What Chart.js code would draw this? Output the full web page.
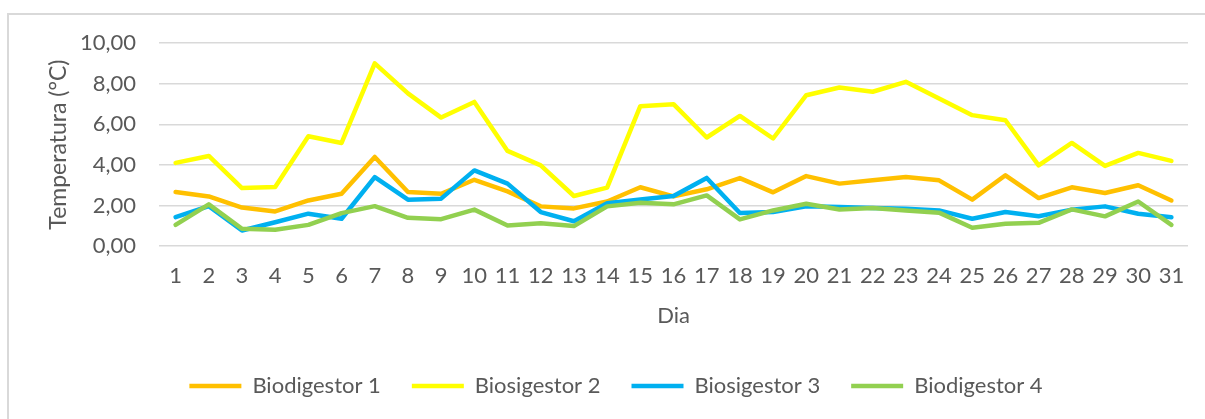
<!DOCTYPE html>
<html>
<head>
<meta charset="utf-8">
<script src="https://cdn.jsdelivr.net/npm/chart.js@4/dist/chart.umd.min.js"></script>
<style>
  html, body { margin: 0; padding: 0; background: #fff; overflow: hidden; }
  #wrap { position: relative; width: 1205px; height: 419px; }
  #frame { position: absolute; left: 7px; top: 13px; width: 1400px; height: 600px;
           border: 2px solid #d9d9d9; box-sizing: border-box; pointer-events: none; }
</style>
</head>
<body>
<div id="wrap">
  <canvas id="chart" width="1205" height="419"></canvas>
  <div id="frame"></div>
</div>
<script>
const days = Array.from({ length: 31 }, (_, i) => String(i + 1));

const biodigestor1 = [2.67, 2.45, 1.90, 1.71, 2.25, 2.58, 4.39, 2.67, 2.58, 3.27, 2.70, 1.96, 1.86, 2.20, 2.90, 2.45,
  2.80, 3.35, 2.65, 3.45, 3.08, 3.24, 3.40, 3.24, 2.29, 3.49, 2.37, 2.90, 2.62, 3.00, 2.25];
const biosigestor2 = [4.10, 4.44, 2.86, 2.91, 5.41, 5.08, 9.00, 7.52, 6.33, 7.10, 4.69, 3.98, 2.47, 2.88, 6.89, 6.99,
  5.35, 6.41, 5.30, 7.43, 7.81, 7.60, 8.09, 7.27, 6.45, 6.20, 3.98, 5.08, 3.95, 4.59, 4.20];
const biosigestor3 = [1.43, 1.97, 0.77, 1.18, 1.60, 1.35, 3.40, 2.29, 2.34, 3.73, 3.08, 1.68, 1.23, 2.12, 2.30, 2.47,
  3.36, 1.63, 1.68, 1.96, 1.93, 1.88, 1.84, 1.76, 1.35, 1.68, 1.47, 1.80, 1.96, 1.60, 1.43];
const biodigestor4 = [1.05, 2.06, 0.86, 0.81, 1.05, 1.63, 1.97, 1.40, 1.33, 1.80, 1.02, 1.13, 0.99, 1.96, 2.14, 2.06,
  2.50, 1.32, 1.76, 2.09, 1.81, 1.88, 1.76, 1.65, 0.91, 1.10, 1.15, 1.81, 1.47, 2.20, 1.05];

const seriesNames = ['Biodigestor 1', 'Biosigestor 2', 'Biosigestor 3', 'Biodigestor 4'];
const seriesColors = ['#FFC000', '#FFFF00', '#00B0F0', '#92D050'];
const seriesValues = [biodigestor1, biosigestor2, biosigestor3, biodigestor4];

const FONT = 'Lato';
const TEXT = '#595959';

// later series sit on top, like the spreadsheet draws them
const datasets = seriesValues.map((values, i) => ({
  label: seriesNames[i],
  data: values,
  borderColor: seriesColors[i],
  backgroundColor: seriesColors[i],
  borderWidth: 4.5,
  borderCapStyle: 'round',
  borderJoinStyle: 'round',
  pointRadius: 0,
  tension: 0,
  order: seriesValues.length - i,
}));

new Chart(document.getElementById('chart'), {
  type: 'line',
  data: { labels: days, datasets },
  options: {
    responsive: false,
    animation: false,
    layout: { padding: { left: 44, right: 17, top: 43, bottom: 12 } },
    scales: {
      x: {
        offset: true,
        afterFit: (scale) => { scale.height = 97.8; },
        grid: { display: false, drawTicks: false },
        border: { display: false },
        ticks: { color: TEXT, font: { family: FONT, size: 22 }, padding: 17, maxRotation: 0, autoSkip: false },
        title: { display: true, text: 'Dia', color: TEXT, font: { family: FONT, size: 22 },
                 padding: { top: 10, bottom: 14.8 } },
      },
      y: {
        min: 0,
        max: 10,
        afterFit: (scale) => { scale.width = 115; },
        grid: { color: '#d9d9d9', lineWidth: 1.5, drawTicks: false },
        border: { display: false },
        ticks: {
          stepSize: 2,
          color: TEXT,
          font: { family: FONT, size: 22 },
          padding: 23,
          callback: (v) => v.toFixed(2).replace('.', ','),
        },
        title: { display: true, text: 'Temperatura (°C)', color: TEXT, font: { family: FONT, size: 23 },
                 padding: { top: 0.5, bottom: 0 } },
      },
    },
    plugins: {
      legend: {
        position: 'bottom',
        labels: {
          color: TEXT,
          font: { family: FONT, size: 22 },
          usePointStyle: true,
          pointStyle: 'line',
          pointStyleWidth: 52,
          padding: 31,
          sort: (a, b) => a.datasetIndex - b.datasetIndex,
        },
      },
      tooltip: { enabled: false },
    },
  },
});
</script>
</body>
</html>
